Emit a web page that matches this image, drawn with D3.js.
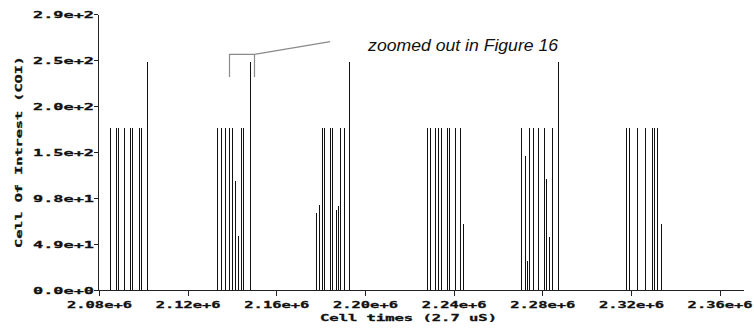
<!DOCTYPE html>
<html>
<head>
<meta charset="utf-8">
<script src="https://cdn.jsdelivr.net/npm/d3@7/dist/d3.min.js"></script>
<style>
  html, body { margin: 0; padding: 0; background: #fff; }
  svg { display: block; }
</style>
</head>
<body>
<svg id="chart" width="754" height="333"></svg>
<script>
// Cell arrival times (in 2.7 uS cell units) and the cell-of-interest value at each.
const cellTimes = [
  2085000, 2087500, 2088400, 2091400, 2094000, 2094900, 2097900, 2098800, 2101500,
  2133100, 2135100, 2136900, 2138800, 2140200, 2141400, 2142600, 2144000, 2145100, 2148000,
  2177800, 2179200, 2180400, 2181300, 2184200, 2185100, 2186900, 2187800, 2188900, 2190500, 2192900,
  2227900, 2229400, 2231600, 2233000, 2234100, 2237000, 2237900, 2240600, 2242800, 2244200,
  2270400, 2272000, 2273100, 2274100, 2275800, 2277900, 2280600, 2281500, 2283200, 2284400, 2286900,
  2317900, 2319300, 2322800, 2326400, 2329500, 2330300, 2331600, 2333400
];
const coiValues = [
  173, 173, 173, 173, 173, 173, 173, 173, 243,
  173, 173, 173, 173, 173, 116, 57, 173, 173, 243,
  82, 91, 173, 173, 173, 173, 85, 89, 173, 173, 243,
  173, 173, 173, 173, 173, 173, 173, 173, 173, 70,
  173, 143, 31, 173, 173, 173, 173, 118, 56, 173, 243,
  173, 173, 173, 173, 173, 173, 173, 70
];

const xTickValues = [2080000, 2120000, 2160000, 2200000, 2240000, 2280000, 2320000, 2360000];
const xTickLabels = ["2.08e+6", "2.12e+6", "2.16e+6", "2.20e+6", "2.24e+6", "2.28e+6", "2.32e+6", "2.36e+6"];
const yTickValues = [0, 49, 98, 147, 196, 245, 294];
const yTickLabels = ["0.0e+0", "4.9e+1", "9.8e+1", "1.5e+2", "2.0e+2", "2.5e+2", "2.9e+2"];

const xTitle = "Cell times (2.7 uS)";
const yTitle = "Cell Of Intrest (COI)";

// Callout: bracket over the second burst, leader line and note (data coordinates).
const bracketTimes = [2138700, 2150000];
const bracketValues = [227, 251];
const leaderEnd = [2184300, 264.5];
const noteText = "zoomed out in Figure 16";
const notePos = [2201400, 254.6];

const svg = d3.select("#chart");
const monoFont = "'DejaVu Sans Mono', monospace";

// Heavy, wide monospace labels
function styleMono(sel, len) {
  sel.attr("fill", "#111")
    .attr("stroke", "#111")
    .attr("stroke-width", 0.3)
    .attr("font-family", monoFont)
    .attr("font-weight", "bold")
    .attr("font-size", 9.5)
    .attr("textLength", len)
    .attr("lengthAdjust", "spacingAndGlyphs");
}

const x = d3.scaleLinear().domain([2080000, 2371000]).range([99, 744]);
const y = d3.scaleLinear().domain([0, 294]).range([290, 14]);

// Spikes
svg.append("g")
  .selectAll("line")
  .data(cellTimes.map((t, i) => ({ t, v: coiValues[i] })))
  .join("line")
  .attr("x1", d => Math.round(x(d.t)) + 0.5)
  .attr("x2", d => Math.round(x(d.t)) + 0.5)
  .attr("y1", y(0))
  .attr("y2", d => y(d.v))
  .attr("stroke", "#111")
  .attr("stroke-width", 1)
  .attr("shape-rendering", "crispEdges");

// X axis
const xAxis = svg.append("g")
  .attr("transform", `translate(0,${y(0)})`)
  .call(d3.axisBottom(x)
    .tickValues(xTickValues)
    .tickFormat((d, i) => xTickLabels[i])
    .tickSize(6)
    .tickSizeOuter(0));
xAxis.selectAll("path, line").attr("stroke", "#222").attr("shape-rendering", "crispEdges");
xAxis.selectAll("text").attr("y", 17.5).attr("dy", null).call(styleMono, 65);
xAxis.select(".domain").attr("d", `M${x.range()[0] - 1},0.5H${x.range()[1]}`);

// Y axis
const yAxis = svg.append("g")
  .attr("transform", "translate(98,0)")
  .call(d3.axisLeft(y)
    .tickValues(yTickValues)
    .tickFormat((d, i) => yTickLabels[i])
    .tickSize(4)
    .tickPadding(0)
    .tickSizeOuter(0));
yAxis.selectAll("path, line").attr("stroke", "#222").attr("shape-rendering", "crispEdges");
yAxis.selectAll("text").attr("x", -4).attr("dy", "0.35em").call(styleMono, 61);

// Axis titles
svg.append("text")
  .attr("x", 408.5)
  .attr("y", 321)
  .attr("text-anchor", "middle")
  .call(styleMono, 177)
  .text(xTitle);

svg.append("text")
  .attr("transform", `translate(22,${(y.range()[0] + y.range()[1]) / 2}) rotate(-90)`)
  .attr("text-anchor", "middle")
  .call(styleMono, 192)
  .text(yTitle);

// Callout bracket and leader
const bx0 = Math.round(x(bracketTimes[0])) + 0.5;
const bx1 = Math.round(x(bracketTimes[1])) + 0.5;
const byTop = y(bracketValues[1]);
const byBot = y(bracketValues[0]);
svg.append("path")
  .attr("d", `M${bx0},${byBot}V${byTop}H${bx1}V${byBot}M${bx1},${byTop}L${x(leaderEnd[0])},${y(leaderEnd[1])}`)
  .attr("fill", "none")
  .attr("stroke", "#8a8a8a")
  .attr("stroke-width", 1.2);

svg.append("text")
  .attr("x", x(notePos[0]))
  .attr("y", y(notePos[1]))
  .attr("fill", "#111")
  .attr("font-family", "'Liberation Sans', Arial, sans-serif")
  .attr("font-style", "italic")
  .attr("font-size", 16)
  .attr("textLength", 190)
  .attr("lengthAdjust", "spacingAndGlyphs")
  .text(noteText);
</script>
</body>
</html>
